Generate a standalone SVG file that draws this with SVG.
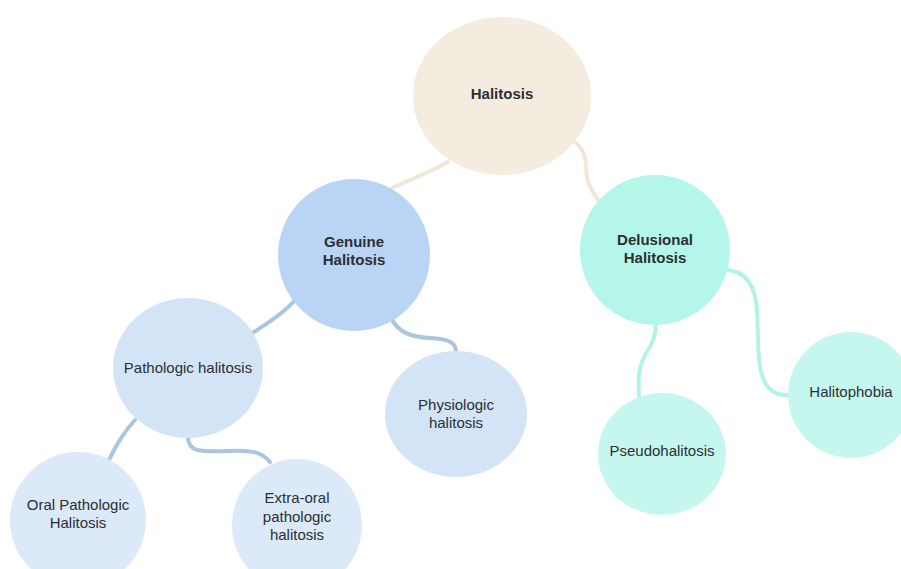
<svg xmlns="http://www.w3.org/2000/svg" width="901" height="569" viewBox="0 0 901 569">
<style>
text{font-family:"Liberation Sans",Arial,sans-serif;font-size:15px;fill:#2b2f33;text-anchor:middle}
.b{font-weight:bold}
.c{fill:none;stroke-width:4;stroke-linecap:round}
.beige{stroke:#f1e7d6}
.blue{stroke:#a9c6dd}
.teal{stroke:#b3f3e5}
</style>
<rect width="901" height="569" fill="#ffffff"/>
<g id="connectors">
<path class="c beige" d="M448,162 C430,172 410,180 392,188"/>
<path class="c beige" d="M576,143 C590,155 584,170 588,182 C591,190 595,195 598,200"/>
<path class="c blue" d="M296,299 C285,312 270,322 254,332"/>
<path class="c blue" d="M391,318 C398,332 410,337 430,338 C450,339 456,343 456,352"/>
<path class="c blue" d="M135,420 C124,432 116,445 109,460"/>
<path class="c blue" d="M188,437 C188,452 200,452 228,451 C252,450 262,452 270,462"/>
<path class="c teal" d="M656,323 C656,345 645,350 641,365 C637,378 639,388 639,396"/>
<path class="c teal" d="M728,270 C748,272 756,288 757,312 C759,345 756,372 768,387 C775,395 782,395 789,395"/>
</g>
<g id="halitosis"><ellipse cx="502" cy="96" rx="89" ry="79" fill="#f4ecdf"/><text class="b" x="502" y="99">Halitosis</text></g>
<g id="genuine"><circle cx="354" cy="255" r="76" fill="#b9d4f4"/><text class="b" x="354" y="247">Genuine</text><text class="b" x="354" y="265">Halitosis</text></g>
<g id="delusional"><circle cx="655" cy="250" r="75" fill="#b4f7ea"/><text class="b" x="655" y="245">Delusional</text><text class="b" x="655" y="263">Halitosis</text></g>
<g id="pathologic"><ellipse cx="188" cy="368" rx="75" ry="70" fill="#d3e4f7"/><text x="188" y="373">Pathologic halitosis</text></g>
<g id="physiologic"><ellipse cx="456" cy="414" rx="71" ry="63" fill="#d3e4f7"/><text x="456" y="410">Physiologic</text><text x="456" y="428">halitosis</text></g>
<g id="oral"><circle cx="78" cy="520" r="68" fill="#dce9f8"/><text x="78" y="510">Oral Pathologic</text><text x="78" y="528">Halitosis</text></g>
<g id="extraoral"><ellipse cx="297" cy="525" rx="65" ry="66" fill="#dce9f8"/><text x="297" y="503">Extra-oral</text><text x="297" y="522">pathologic</text><text x="297" y="540">halitosis</text></g>
<g id="pseudo"><ellipse cx="662" cy="454" rx="64" ry="61" fill="#c6f7ee"/><text x="662" y="456">Pseudohalitosis</text></g>
<g id="halitophobia"><ellipse cx="851" cy="395" rx="63" ry="63" fill="#c6f7ee"/><text x="851" y="397">Halitophobia</text></g>
</svg>
